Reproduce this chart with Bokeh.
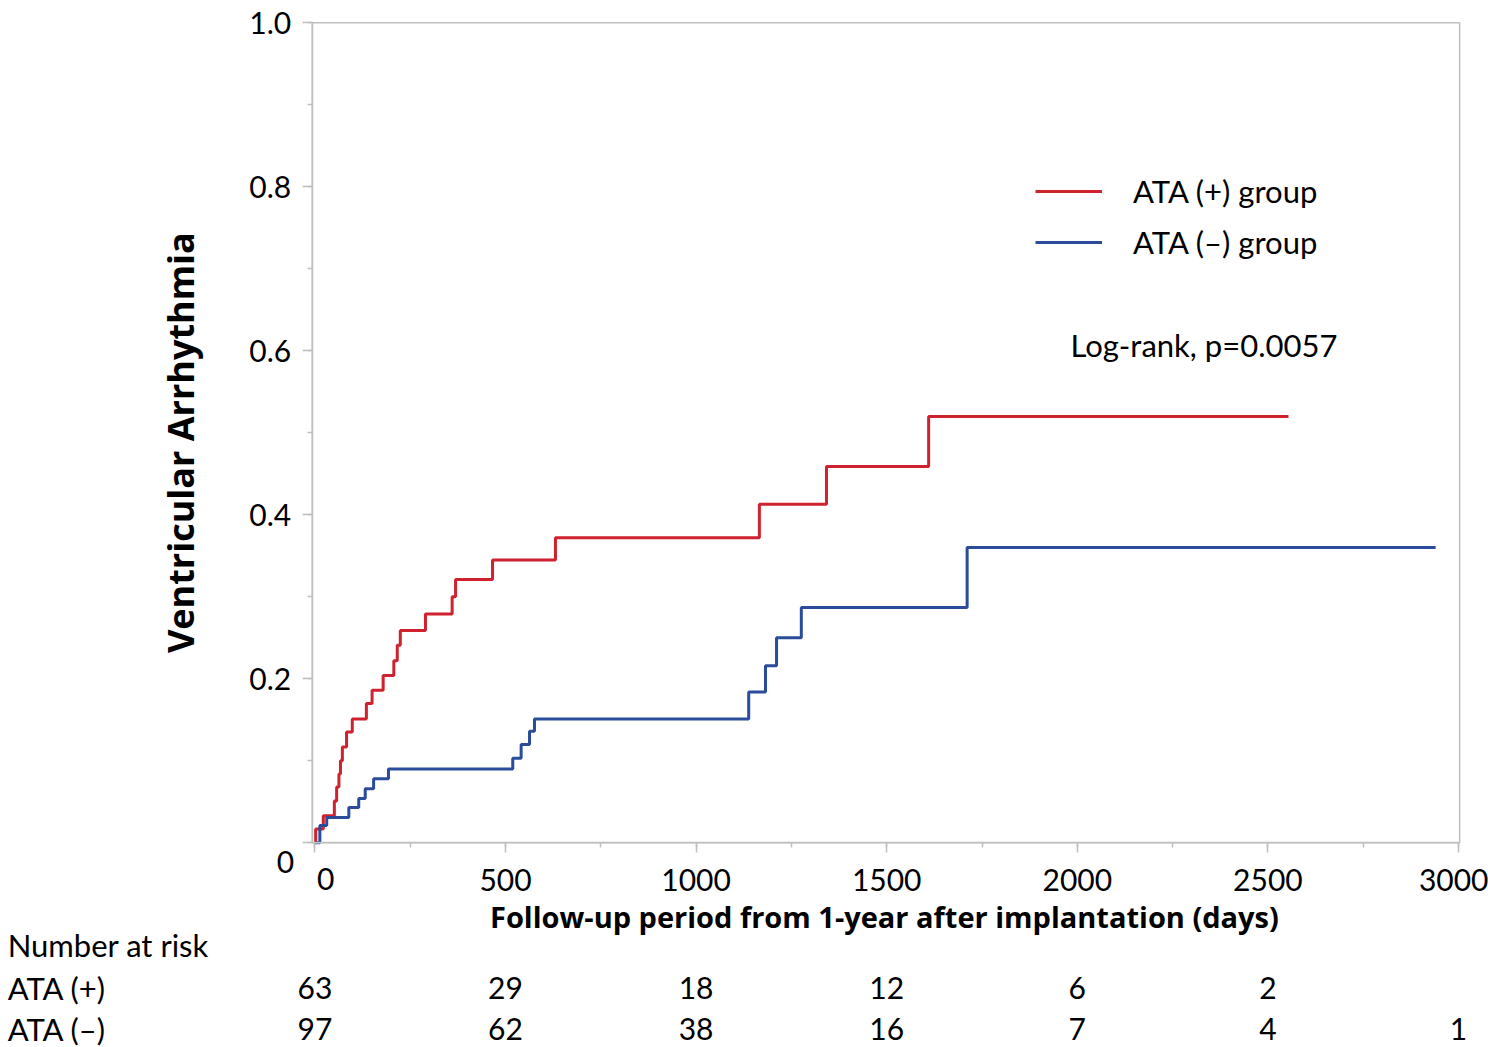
from math import pi
from bokeh.plotting import figure
from bokeh.models import (Range1d, Label, LabelSet, ColumnDataSource, Legend,
                          LegendItem, SingleIntervalTicker, BoxAnnotation)
from bokeh.core.properties import value
from bokeh.embed import file_html
from bokeh.resources import INLINE

# ---- data ----
red_days = [0, 2, 22, 51, 57, 63, 67, 72, 83, 98, 135, 150, 179, 207, 216, 224,
            290, 360, 369, 466, 631, 1166, 1342, 1610, 2554]
red_rate = [0, 0.017, 0.033, 0.051, 0.068, 0.084, 0.100, 0.117, 0.135, 0.151,
            0.170, 0.186, 0.204, 0.222, 0.241, 0.259, 0.279, 0.300, 0.321, 0.345,
            0.372, 0.413, 0.459, 0.520, 0.520]
blue_days = [0, 13, 31, 89, 115, 132, 154, 193, 519, 541, 563, 576, 1138, 1182,
             1211, 1276, 1711, 2940]
blue_rate = [0, 0.021, 0.031, 0.043, 0.054, 0.066, 0.078, 0.090, 0.103, 0.120,
             0.136, 0.151, 0.184, 0.216, 0.250, 0.287, 0.360, 0.360]

risk_days_pos = [0, 500, 1000, 1500, 2000, 2500]
at_risk_pos = ["63", "29", "18", "12", "6", "2"]
risk_days_neg = [0, 500, 1000, 1500, 2000, 2500, 3000]
at_risk_neg = ["97", "62", "38", "16", "7", "4", "1"]

group_names = ["ATA (+) group", "ATA (\u2013) group"]
row_names = ["Number at risk", "ATA (+)", "ATA (\u2013)"]

FONT = "Lato"
TITLE_FONT = "Open Sans"
GRAY = "#bfbfbf"
RED = "#d0212f"
BLUE = "#2b4c9b"

X_MIN, X_MAX = -7, 3003   # plotting box in days
Y_MIN, Y_MAX = 0.0, 1.0

# the canvas itself is the frame; axes are pinned inside it
p = figure(width=1488, height=1047, output_backend="svg", toolbar_location=None,
           x_range=Range1d(-824.8, 3078.7), y_range=Range1d(-0.2496, 1.0272),
           min_border=0)
p.grid.visible = False
p.outline_line_color = None
p.background_fill_color = "white"
p.border_fill_color = "white"

xa, ya = p.xaxis[0], p.yaxis[0]
xa.fixed_location = Y_MIN
ya.fixed_location = X_MIN
xa.bounds = (X_MIN, X_MAX)
ya.bounds = (Y_MIN, Y_MAX)
for ax in (xa, ya):
    ax.axis_line_color = GRAY
    ax.axis_line_width = 1.5
    ax.major_tick_line_color = GRAY
    ax.minor_tick_line_color = GRAY
    ax.major_tick_line_width = 1.5
    ax.minor_tick_line_width = 1.5
    ax.major_tick_in = 0
    ax.major_tick_out = 10
    ax.minor_tick_in = 0
    ax.minor_tick_out = 5
    ax.major_label_text_font = FONT
    ax.major_label_text_font_size = "30px"
    ax.major_label_text_color = "black"

xa.ticker = SingleIntervalTicker(interval=500, num_minor_ticks=2)
ya.ticker = SingleIntervalTicker(interval=0.2, num_minor_ticks=2)
xa.major_label_standoff = 16
ya.major_label_standoff = 11
xa.major_label_overrides = {0: ""}
ya.major_label_overrides = {0: "", 0.2: "0.2", 0.4: "0.4", 0.6: "0.6",
                            0.8: "0.8", 1: "1.0"}

# top and right edges of the plotting box
p.add_layout(BoxAnnotation(left=X_MIN, right=X_MAX, bottom=Y_MIN, top=Y_MAX,
                           fill_alpha=0, line_color=GRAY, line_alpha=1.0,
                           line_width=1.5))

r_red = p.step(red_days, red_rate, mode="after", line_color=RED, line_width=3)
r_blue = p.step(blue_days, blue_rate, mode="after", line_color=BLUE, line_width=3)

legend = Legend(items=[LegendItem(label=group_names[0], renderers=[r_red]),
                       LegendItem(label=group_names[1], renderers=[r_blue])],
                location=(1035, 785), padding=0, margin=0, spacing=11,
                glyph_width=67, glyph_height=40, label_height=40,
                label_standoff=31, border_line_alpha=0, background_fill_alpha=0,
                label_text_font=FONT, label_text_font_size="31px",
                label_text_color="black")
p.add_layout(legend)

def lab(x, y, text, size="30px", bold=False, align="left", baseline="middle",
        angle=0, font=FONT):
    p.add_layout(Label(x=x, y=y, text=text, text_font=font, text_font_size=size,
                       text_font_style="bold" if bold else "normal",
                       text_align=align, text_baseline=baseline, angle=angle,
                       text_color="black"))

# zero tick labels (offset as in the reference)
lab(28, -0.044, "0", align="center")
lab(-77, -0.023, "0", align="center")

lab(1982, 0.6065, "Log-rank, p=0.0057", size="31px", baseline="alphabetic")
lab(-352, 0.488, "Ventricular Arrhythmia", size="36px", bold=True,
    align="center", angle=pi / 2, font=TITLE_FONT)
lab(1494, -0.090, "Follow-up period from 1-year after implantation (days)",
    size="29px", bold=True, align="center", font=TITLE_FONT)

row_y = [-0.1252, -0.1765, -0.2265]
for name, yy in zip(row_names, row_y):
    lab(-806, yy, name, size="31px")

src_pos = ColumnDataSource(dict(x=risk_days_pos, y=[row_y[1]] * len(risk_days_pos),
                                t=at_risk_pos))
src_neg = ColumnDataSource(dict(x=risk_days_neg, y=[row_y[2]] * len(risk_days_neg),
                                t=at_risk_neg))
for src in (src_pos, src_neg):
    p.add_layout(LabelSet(x="x", y="y", text="t", source=src,
                          text_font=value(FONT), text_font_size=value("30px"),
                          text_align="center", text_baseline="middle",
                          text_color="black"))

open("out.html", "w").write(file_html(p, INLINE))
